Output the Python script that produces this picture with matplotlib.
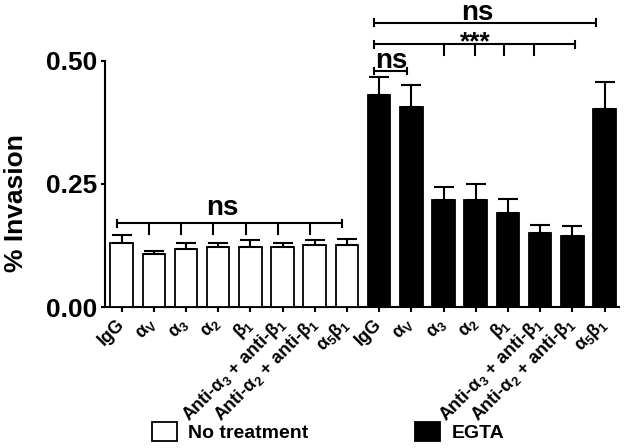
import matplotlib
matplotlib.use("Agg")
import matplotlib.pyplot as plt
import numpy as np

plt.rcParams["font.family"] = ["Liberation Sans", "DejaVu Sans"]
plt.rcParams["font.weight"] = "bold"
plt.rcParams["mathtext.fontset"] = "custom"
plt.rcParams["mathtext.rm"] = "Liberation Sans:bold"
plt.rcParams["mathtext.it"] = "Liberation Sans:bold"
plt.rcParams["mathtext.bf"] = "Liberation Sans:bold"

# data
labels = [
    "IgG", r"$\alpha_V$", r"$\alpha_3$", r"$\alpha_2$", r"$\beta_1$",
    r"Anti-$\alpha_3$ + anti-$\beta_1$", r"Anti-$\alpha_2$ + anti-$\beta_1$",
    r"$\alpha_5\beta_1$",
]
no_treatment = [0.130, 0.107, 0.117, 0.121, 0.121, 0.121, 0.125, 0.126]
no_treatment_err = [0.016, 0.007, 0.012, 0.009, 0.015, 0.009, 0.012, 0.013]
egta = [0.431, 0.406, 0.218, 0.218, 0.191, 0.151, 0.145, 0.402]
egta_err = [0.036, 0.044, 0.026, 0.032, 0.029, 0.015, 0.019, 0.055]

fig = plt.figure(figsize=(6.24, 4.48), dpi=100)
ax = fig.add_axes([0.168, 0.3147, 0.824, 0.66])

n = len(labels)
x_nt = np.arange(n)
x_eg = np.arange(n, 2 * n)
lw = 1.5
err_kw = dict(elinewidth=lw, capthick=lw, ecolor="black")

b1 = ax.bar(x_nt, no_treatment, width=0.7, color="white", edgecolor="black",
            linewidth=1.3, yerr=[np.zeros(n), no_treatment_err], capsize=7.5,
            error_kw=err_kw, label="No treatment", zorder=3)
b2 = ax.bar(x_eg, egta, width=0.7, color="black", edgecolor="black",
            linewidth=1.3, yerr=[np.zeros(n), egta_err], capsize=7.5,
            error_kw=err_kw, label="EGTA", zorder=3)

ax.set_xlim(-0.52, 15.45)
ax.set_ylim(0, 0.6)
ax.set_yticks([0, 0.25, 0.5])
ax.set_yticklabels(["0.00", "0.25", "0.50"], fontsize=19, fontweight="bold")
ax.set_xticks(np.arange(2 * n))
ax.set_xticklabels(labels + labels, rotation=45, ha="right", va="center",
                   rotation_mode="anchor", fontsize=13, fontweight="bold")
ax.tick_params(axis="x", length=3.5, width=lw, pad=7)
ax.tick_params(axis="y", length=3, width=lw, pad=2.5)

for s in ["top", "right"]:
    ax.spines[s].set_visible(False)
ax.spines["left"].set_bounds(0, 0.5)
for s in ["left", "bottom"]:
    ax.spines[s].set_linewidth(lw)

fig.text(16 / 624, 1 - 203 / 448, "% Invasion", rotation=90, ha="center",
         va="center", fontsize=19, fontweight="bold")


def bracket(x0, x1, y, inner=(), cap=0.007, tick=0.021):
    ax.plot([x0, x1], [y, y], color="black", lw=lw, clip_on=False,
            solid_capstyle="butt")
    for xe in (x0, x1):
        ax.plot([xe, xe], [y - cap, y + cap], color="black", lw=lw, clip_on=False)
    for xi in inner:
        ax.plot([xi, xi], [y, y - tick], color="black", lw=lw, clip_on=False)


off = -0.15
bracket(0 + off, 7 + off, 0.170, inner=[i + off for i in range(1, 7)])
ax.text(3.14, 0.187, "ns", ha="center", va="baseline", fontsize=20,
        fontweight="bold")

bracket(8 + off, 9 + off, 0.479)
ax.text(8.39, 0.485, "ns", ha="center", va="baseline", fontsize=20,
        fontweight="bold")

bracket(8 + off, 14.08, 0.533, inner=[10.0, 10.97, 11.88, 12.81])
ax.text(11.0, 0.522, "***", ha="center", va="baseline", fontsize=19,
        fontweight="bold")

bracket(8 + off, 14.75, 0.577)
ax.text(11.06, 0.583, "ns", ha="center", va="baseline", fontsize=20,
        fontweight="bold")

fs = 14
fpx = fs * 100 / 72
ax.legend(handles=[b1, b2], loc="center left",
          bbox_to_anchor=(151.7 / 624, 1 - 432 / 448),
          bbox_transform=fig.transFigure, ncol=2, frameon=False,
          fontsize=fs, borderpad=0, borderaxespad=0,
          handlelength=25 / fpx, handleheight=22.6 / fpx,
          handletextpad=11.6 / fpx, columnspacing=106.6 / fpx,
          prop={"weight": "bold", "size": fs})

fig.savefig("out.png", dpi=100)
